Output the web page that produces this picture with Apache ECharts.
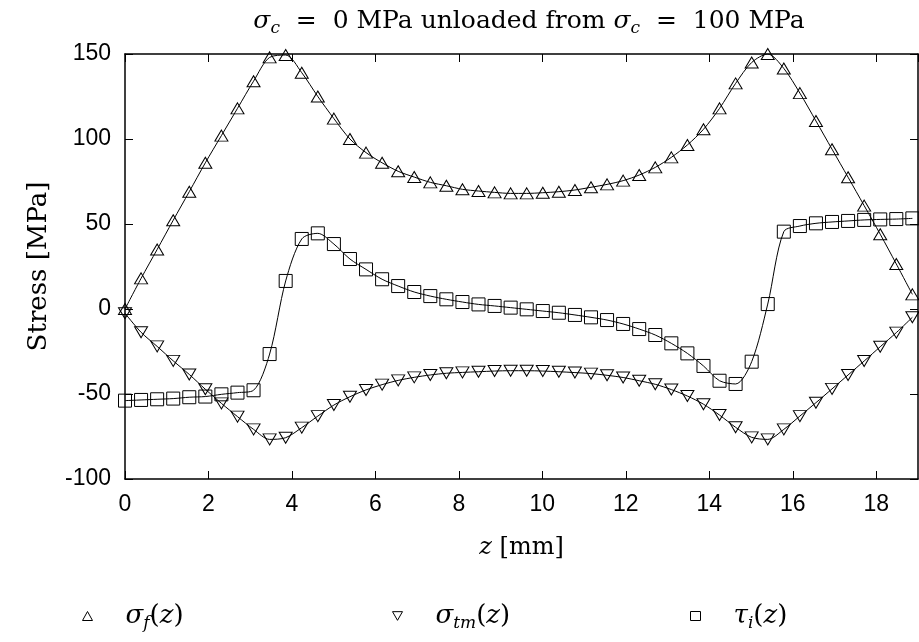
<!DOCTYPE html>
<html>
<head>
<meta charset="utf-8">
<script src="https://cdn.jsdelivr.net/npm/echarts@6/dist/echarts.min.js"></script>
<style>html,body{margin:0;padding:0;background:#fff}#c{width:919px;height:642px}</style>
</head>
<body>
<div id="c"></div>
<script>
// sample positions z [mm]
const zValues = [0,0.385,0.77,1.155,1.54,1.925,2.31,2.695,3.08,3.465,3.85,4.235,4.62,5.005,5.39,5.775,6.16,6.545,6.93,7.315,7.7,8.085,8.47,8.855,9.24,9.625,10.01,10.395,10.78,11.165,11.55,11.935,12.32,12.705,13.09,13.475,13.86,14.245,14.63,15.015,15.4,15.785,16.17,16.555,16.94,17.325,17.71,18.095,18.48,18.865];
// sigma_f(z)
const sigmaF = [0,18,35,52.2,69,86,102,118,134,148,149.4,139,125,112,100,92,86,81,77.6,74.5,72.5,70.4,69.4,68.6,68,68,68.4,69,70,71.6,73.3,75.5,78.8,83.3,89.2,96.5,105.7,118,132.7,145,150,141.5,127,110.6,94,77.5,60.8,44,26.5,8.6];
// sigma_tm(z)
const sigmaTm = [-2.5,-13.7,-22,-30.5,-38.5,-47.2,-55.5,-63.3,-70.8,-76.7,-75.7,-69.8,-63,-56.5,-51.6,-47.6,-44.5,-42,-40.2,-38.8,-37.8,-37.3,-36.9,-36.5,-36.3,-36.3,-36.5,-36.9,-37.4,-38,-39,-40.3,-42.2,-44.3,-47.4,-51.2,-56,-62.4,-69.6,-75.5,-76.7,-70.8,-63,-55.1,-47,-38.8,-30.6,-22.2,-13.9,-4.9];
// tau_i(z)
const tauI = [-53.9,-53.5,-53.1,-52.7,-51.9,-51.5,-50.2,-49.2,-47.8,-26.5,16.5,41.2,44.5,38.2,29.4,23.3,17.5,13.5,10,7.6,5.7,4.1,2.7,1.8,0.8,-0.2,-1.2,-2.2,-3.5,-4.9,-6.5,-8.8,-11.8,-15.3,-20.2,-26.1,-33.5,-42.2,-44.1,-31,2.9,45.5,48.8,50.4,51.2,51.8,52.4,52.7,52.9,53.3];

const xTicks = {min: 0, max: 19, interval: 2};
const yTicks = {min: -100, max: 150, interval: 50};

const legendLabels = {
  sf: '{sp|}{m|σ}{sub|f}{r|(}{m|z}{r|)}',
  stm: '{sp|}{m|σ}{sub|tm}{r|(}{m|z}{r|)}',
  ti: '{sp|}{m|τ}{sub|i}{r|(}{m|z}{r|)}'
};

const serif = 'DejaVu Serif';
function richSet(size, subSize, spW) {
  return {
    sp: {width: spW || 0},
    m: {fontFamily: serif, fontStyle: 'italic', fontWeight: 'normal', fontSize: size, color: '#000', lineHeight: size + 6},
    sub: {fontFamily: serif, fontStyle: 'italic', fontWeight: 'normal', fontSize: subSize, color: '#000', verticalAlign: 'bottom', lineHeight: subSize + 4},
    r: {fontFamily: serif, fontWeight: 'normal', fontSize: size, color: '#000', lineHeight: size + 6}
  };
}

function pairs(ys) { return zValues.map((z, i) => [z, ys[i]]); }

const downTri = 'path://M0,0L10,0L5,8.66Z';
const markerStyle = {color: 'rgba(0,0,0,0)', borderColor: '#000', borderWidth: 1};

const chart = echarts.init(document.getElementById('c'), null, {renderer: 'canvas'});
const sansTick = {fontFamily: 'Liberation Sans', fontSize: 23, color: '#000'};
const axisLineStyle = {onZero: false, lineStyle: {color: '#000', width: 1.5}};
const tickStyle = {show: true, inside: true, length: 8, lineStyle: {color: '#000', width: 1}};

chart.setOption({
  animation: false,
  backgroundColor: '#fff',
  title: {
    text: '{m|σ}{sub|c}{r|  =  0 MPa unloaded from }{m|σ}{sub|c}{r|  =  100 MPa}',
    left: 524, top: 1, textAlign: 'center',
    textStyle: {fontWeight: 'normal', rich: richSet(25, 17)}
  },
  grid: {left: 125, right: 1, top: 54, bottom: 163, containLabel: false},
  xAxis: [{
    type: 'value', min: xTicks.min, max: xTicks.max, interval: xTicks.interval,
    position: 'bottom',
    axisLine: axisLineStyle, axisTick: tickStyle,
    axisLabel: {...sansTick, margin: 14, showMaxLabel: false},
    splitLine: {show: false},
    name: '{m|z}{r| [mm]}', nameLocation: 'middle', nameGap: 54,
    nameTextStyle: {rich: richSet(24, 16)}
  }, {
    type: 'value', min: xTicks.min, max: xTicks.max, interval: xTicks.interval,
    position: 'top',
    axisLine: axisLineStyle, axisTick: tickStyle,
    axisLabel: {show: false}, splitLine: {show: false}
  }],
  yAxis: [{
    type: 'value', min: yTicks.min, max: yTicks.max, interval: yTicks.interval,
    position: 'left',
    axisLine: {show: true, ...axisLineStyle}, axisTick: tickStyle,
    axisLabel: {...sansTick, margin: 14},
    splitLine: {show: false},
    name: 'Stress [MPa]', nameLocation: 'middle', nameGap: 73, nameRotate: 90,
    nameTextStyle: {fontFamily: serif, fontSize: 26, color: '#000'}
  }, {
    type: 'value', min: yTicks.min, max: yTicks.max, interval: yTicks.interval,
    position: 'right',
    axisLine: {show: true, ...axisLineStyle}, axisTick: tickStyle,
    axisLabel: {show: false}, splitLine: {show: false}
  }],
  legend: [
    {data: [{name: 'sf', icon: 'triangle'}], left: 77, top: 598},
    {data: [{name: 'stm', icon: downTri}], left: 387, top: 598},
    {data: [{name: 'ti', icon: 'rect'}], left: 685, top: 598}
  ].map(l => Object.assign(l, {
    orient: 'horizontal', itemWidth: 10, itemHeight: 9,
    itemStyle: {color: '#fff', borderColor: '#000', borderWidth: 1},
    formatter: n => legendLabels[n],
    textStyle: {rich: richSet(26, 17, 28)}
  })),
  series: [
    {name: 'sf', type: 'line', data: pairs(sigmaF), symbol: 'triangle', symbolSize: [13, 11]},
    {name: 'stm', type: 'line', data: pairs(sigmaTm), symbol: 'triangle', symbolRotate: 180, symbolSize: [13, 11]},
    {name: 'ti', type: 'line', data: pairs(tauI), symbol: 'rect', symbolSize: 13}
  ].map(s => Object.assign(s, {
    smooth: 0.3, showAllSymbol: true,
    lineStyle: {color: '#000', width: 1},
    itemStyle: markerStyle,
    emphasis: {disabled: true}
  }))
});
</script>
</body>
</html>
